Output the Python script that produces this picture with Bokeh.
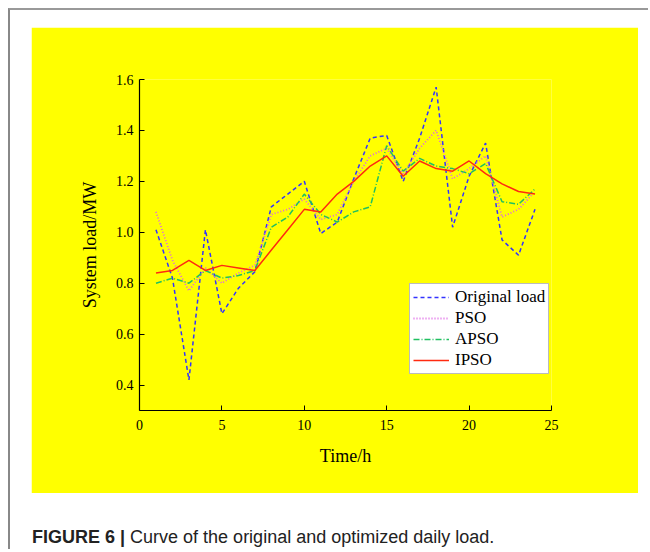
from bokeh.plotting import figure
from bokeh.models import FixedTicker, Legend, LegendItem, Div, NumeralTickFormatter
from bokeh.layouts import column
from bokeh.embed import file_html
from bokeh.resources import INLINE

hours = list(range(1, 25))
original_load = [1.01, 0.82, 0.42, 1.01, 0.68, 0.78, 0.845, 1.10, 1.15, 1.20, 0.995, 1.04,
                 1.21, 1.37, 1.38, 1.20, 1.37, 1.57, 1.02, 1.22, 1.35, 0.97, 0.91, 1.09]
pso = [1.08, 0.89, 0.77, 0.86, 0.80, 0.84, 0.87, 1.07, 1.09, 1.13, 1.05, 1.07,
       1.20, 1.30, 1.33, 1.23, 1.33, 1.40, 1.21, 1.25, 1.30, 1.06, 1.09, 1.16]
apso = [0.80, 0.82, 0.80, 0.85, 0.82, 0.83, 0.85, 1.02, 1.06, 1.15, 1.07, 1.04,
        1.08, 1.10, 1.34, 1.24, 1.29, 1.26, 1.25, 1.23, 1.27, 1.12, 1.11, 1.17]
ipso = [0.84, 0.85, 0.89, 0.85, 0.87, 0.86, 0.85, 0.93, 1.01, 1.09, 1.08, 1.15,
        1.20, 1.26, 1.30, 1.22, 1.28, 1.25, 1.24, 1.28, 1.23, 1.19, 1.16, 1.15]
x_ticks = [0, 5, 10, 15, 20, 25]
y_ticks = [0.4, 0.6, 0.8, 1.0, 1.2, 1.4, 1.6]

YEL = "#FFFF00"
SERIF = "Liberation Serif"

p = figure(width=607, height=466, output_backend="svg", toolbar_location=None,
           x_range=(0, 25), y_range=(0.3, 1.6),
           background_fill_color=YEL, border_fill_color=YEL,
           min_border_left=108, min_border_right=87, min_border_top=52, min_border_bottom=83)
p.outline_line_color = None
p.grid.visible = False

for ax in (p.xaxis, p.yaxis):
    ax.axis_line_color = "black"
    ax.axis_line_width = 1.2
    ax.major_tick_in = 5
    ax.major_tick_out = 0
    ax.minor_tick_line_color = None
    ax.major_tick_line_color = "black"
    ax.major_label_text_font = SERIF
    ax.major_label_text_font_size = "14px"
    ax.major_label_text_color = "black"
    ax.axis_label_text_font = SERIF
    ax.axis_label_text_font_size = "18px"
    ax.axis_label_text_font_style = "normal"
    ax.axis_label_text_color = "black"

p.xaxis.ticker = FixedTicker(ticks=x_ticks)
p.yaxis.ticker = FixedTicker(ticks=y_ticks)
p.yaxis.formatter = NumeralTickFormatter(format="0.0")
p.xaxis.major_label_standoff = 9
p.yaxis.major_label_standoff = 6
p.xaxis.axis_label = "Time/h"
p.yaxis.axis_label = "System load/MW"
p.xaxis.axis_label_standoff = 13
p.yaxis.axis_label_standoff = 13

r1 = p.line(hours, original_load, line_color="#3333ff", line_width=1.5, line_dash="4 3")
r2 = p.line(hours, pso, line_color="#dd66e6", line_width=1.8, line_dash="1 2")
r3 = p.line(hours, apso, line_color="#20c060", line_width=1.5, line_dash="6 2 1 2")
r4 = p.line(hours, ipso, line_color="#ff2a10", line_width=1.5)

legend = Legend(items=[LegendItem(label="Original load", renderers=[r1]),
                       LegendItem(label="PSO", renderers=[r2]),
                       LegendItem(label="APSO", renderers=[r3]),
                       LegendItem(label="IPSO", renderers=[r4])],
                location=(270, 36))
legend.label_text_font = SERIF
legend.label_text_font_size = "17px"
legend.label_text_color = "black"
legend.glyph_width = 36
legend.glyph_height = 20
legend.label_height = 20
legend.spacing = 1
legend.padding = 3
legend.margin = 0
legend.label_standoff = 6
legend.border_line_color = "#777777"
legend.border_line_width = 1
legend.background_fill_color = "white"
legend.background_fill_alpha = 1
p.add_layout(legend, "center")

p.margin = (17, 0, 0, 21)

cap = Div(text='<b>FIGURE 6 |</b> Curve of the original and optimized daily load.',
          width=600, height=24,
          styles={"font-family": "Liberation Sans", "font-size": "18px", "color": "#222"},
          margin=(32, 0, 0, 22))

layout = column(p, cap, styles={"border-left": "2px solid #888", "border-top": "2px solid #999"},
                margin=(8, 0, 0, 8), width=640)

open("out.html", "w").write(file_html(layout, INLINE))
